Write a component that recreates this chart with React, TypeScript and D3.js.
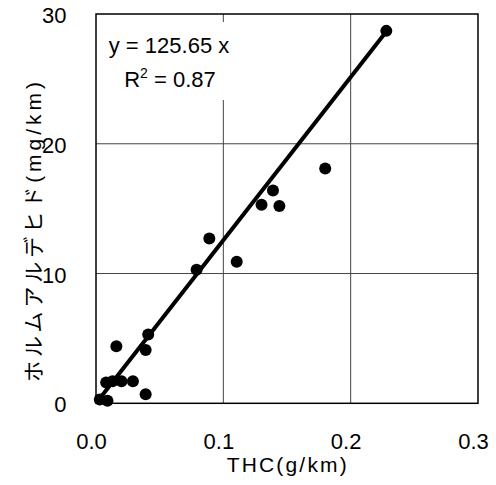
import React from "react";
import * as d3 from "d3";

const thc = [0.003, 0.009, 0.008, 0.013, 0.020, 0.029, 0.016, 0.039, 0.041, 0.039, 0.079, 0.089, 0.1105, 0.130, 0.139, 0.144, 0.180, 0.228];
const formaldehyde = [0.3, 0.2, 1.6, 1.7, 1.7, 1.7, 4.4, 4.1, 5.3, 0.7, 10.3, 12.7, 10.9, 15.3, 16.4, 15.2, 18.1, 28.7];
const slope = 125.65;
const r2 = 0.87;
const xTicks = [0, 0.1, 0.2, 0.3];
const yTicks = [0, 10, 20, 30];
const xTickLabels = ["0.0", "0.1", "0.2", "0.3"];
const yTickLabels = ["0", "10", "20", "30"];
const xTitle = "THC(g/km)";
const yTitle = "ホルムアルデヒド(mg/km)";

const W = 496, H = 485;
const L = 96, R = 478, T = 14, B = 403.3;

export default function App() {
  const x = d3.scaleLinear().domain([0, 0.3]).range([L, R]);
  const y = d3.scaleLinear().domain([0, 30]).range([B, T]);
  const xMax = d3.max(thc) as number;
  const line = d3.line<number>().x((d) => x(d)).y((d) => y(slope * d));
  const font = "'Liberation Sans', Arial, 'Noto Sans CJK JP', sans-serif";
  return (
    <div style={{ position: "absolute", left: 0, top: 0 }}>
      <svg width={W} height={H} style={{ display: "block", background: "#fff" }}>
        <rect x={0} y={0} width={W} height={H} fill="#fff" />
        {xTicks.slice(1, -1).map((t) => (
          <line key={"gx" + t} x1={x(t)} x2={x(t)} y1={T} y2={B} stroke="#444" strokeWidth={1} />
        ))}
        {yTicks.slice(1, -1).map((t) => (
          <line key={"gy" + t} x1={L} x2={R} y1={y(t)} y2={y(t)} stroke="#444" strokeWidth={1} />
        ))}
        <rect x={L} y={T} width={R - L} height={B - T} fill="none" stroke="#000" strokeWidth={1.5} />
        <rect x={L + 1.5} y={22} width={146} height={78} fill="#fff" />
        <text x={169} y={53} textAnchor="middle" fontFamily={font} fontSize={22} fill="#000">
          y = {slope} x
        </text>
        <text x={170} y={87} textAnchor="middle" fontFamily={font} fontSize={22} fill="#000">
          R<tspan dy={-9} fontSize={14}>2</tspan>
          <tspan dy={9}> = {r2}</tspan>
        </text>
        <path d={line([0, xMax]) || ""} fill="none" stroke="#000" strokeWidth={4} />
        {thc.map((v, i) => (
          <circle key={i} cx={x(v)} cy={y(formaldehyde[i])} r={6} fill="#000" />
        ))}
        {xTicks.map((t, i) => (
          <text key={"xt" + t} x={x(t) - 4.5} y={449} textAnchor="middle" fontFamily={font} fontSize={22} fill="#000">
            {xTickLabels[i]}
          </text>
        ))}
        {yTicks.map((t, i) => (
          <text key={"yt" + t} x={66.5} y={y(t) + 1.5} textAnchor="end" dominantBaseline="central" fontFamily={font} fontSize={22} fill="#000">
            {yTickLabels[i]}
          </text>
        ))}
        <text x={286.7} y={471.7} textAnchor="middle" fontFamily={font} fontSize={21} fill="#000" textLength={120} lengthAdjust="spacing">
          {xTitle}
        </text>
        <text transform={`translate(41,232) rotate(-90)`} textAnchor="middle" fontFamily={font} fontSize={21} fill="#000" textLength={300} lengthAdjust="spacing">
          {yTitle}
        </text>
      </svg>
    </div>
  );
}
